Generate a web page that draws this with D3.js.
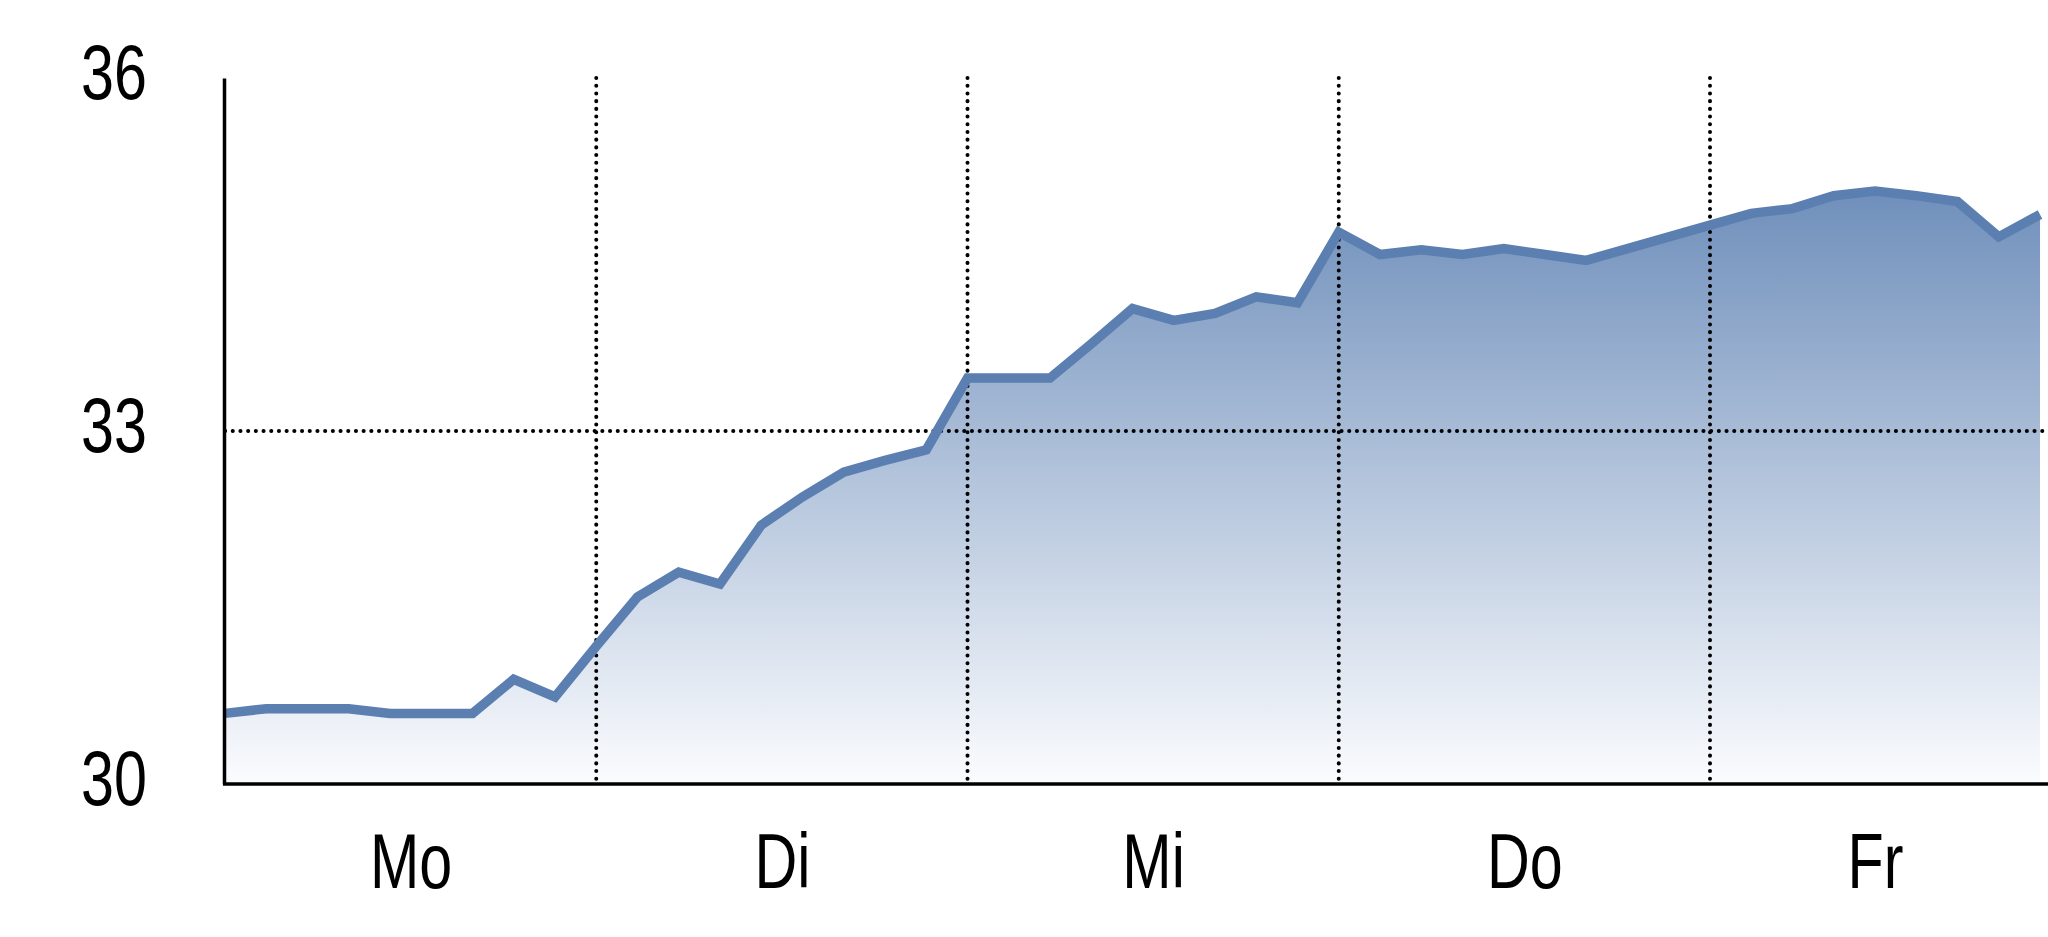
<!DOCTYPE html>
<html>
<head>
<meta charset="utf-8">
<script src="https://cdn.jsdelivr.net/npm/d3@7"></script>
<style>
  body { margin: 0; background: #fff; }
  svg { display: block; }
  .axis text { font-family: "Liberation Sans", Arial, sans-serif; font-size: 78px; fill: #000; }
  .axis .domain { stroke: #000; stroke-width: 3.5; }
  .grid line { stroke: #000; stroke-width: 4; stroke-linecap: round; stroke-dasharray: 0.1 7.6; }
</style>
</head>
<body>
<div class="diagram"></div>
<script>
var width = 2048, height = 937, margin = {top: 78, right: 8, bottom: 153, left: 225};
var squeeze = 0.76; // labels in the original are a condensed face

// one value per time step, 9 steps per day
var values = [
  30.60, 30.64, 30.64, 30.64, 30.60, 30.60, 30.60, 30.89, 30.74,
  31.17, 31.59, 31.80, 31.70, 32.20, 32.44, 32.65, 32.75, 32.84,
  33.45, 33.45, 33.45, 33.74, 34.04, 33.94, 34.00, 34.14, 34.09,
  34.69, 34.50, 34.54, 34.50, 34.55, 34.50, 34.45, 34.55, 34.65,
  34.75, 34.85, 34.89, 35.00, 35.04, 35.00, 34.95, 34.65, 34.84
];
var days = ["Mo", "Di", "Mi", "Do", "Fr"];
var dayBounds = [0, 9, 18, 27, 36, 44];
var yTicks = [30, 33, 36];

var svg = d3.select('.diagram')
  .append('svg')
  .attr('width', width)
  .attr('height', height);

var x = d3.scaleLinear().domain([0, values.length - 1]).range([margin.left, width - margin.right]),
    y = d3.scaleLinear().domain([30, 36]).range([height - margin.bottom, margin.top]);

var defs = svg.append('defs');
var grad = defs.append('linearGradient')
  .attr('id', 'fill')
  .attr('x1', 0).attr('y1', 0).attr('x2', 0).attr('y2', 1);
grad.append('stop').attr('offset', '0%').attr('stop-color', '#6f8fbb');
grad.append('stop').attr('offset', '100%').attr('stop-color', '#fbfcfe');

var area = d3.area()
  .x(function(d, i) { return x(i); })
  .y0(y(30))
  .y1(function(d) { return y(d); });

var line = d3.line()
  .x(function(d, i) { return x(i); })
  .y(function(d) { return y(d); });

svg.append('path')
  .datum(values)
  .attr('d', area)
  .attr('fill', 'url(#fill)');

// dotted grid
var grid = svg.append('g').attr('class', 'grid');
grid.selectAll('.v')
  .data(dayBounds.slice(1, -1))
  .enter().append('line')
  .attr('class', 'v')
  .attr('x1', function(d) { return x(d); })
  .attr('x2', function(d) { return x(d); })
  .attr('y1', y(36))
  .attr('y2', y(30));
grid.append('line')
  .attr('x1', x(0))
  .attr('x2', width)
  .attr('y1', y(33))
  .attr('y2', y(33));

svg.append('path')
  .datum(values)
  .attr('d', line)
  .attr('fill', 'none')
  .attr('stroke', '#5a7fb0')
  .attr('stroke-width', 9.5)
  .attr('stroke-linejoin', 'miter');

// y axis
var yAxis = svg.append('g')
  .attr('class', 'axis axis--y')
  .attr('transform', 'translate(' + (x(0) - 1) + ',0)')
  .call(d3.axisLeft(y).tickValues(yTicks).tickFormat(d3.format('d')).tickSize(0).tickPadding(77).tickSizeOuter(0));
yAxis.selectAll('text')
  .attr('dy', '0.26em')
  .attr('x', -77 / squeeze)
  .attr('transform', 'scale(' + squeeze + ',1)');

// x axis, labels centred in each day
var dayCenters = days.map(function(d, i) { return (dayBounds[i] + dayBounds[i + 1]) / 2; });
var xAxis = svg.append('g')
  .attr('class', 'axis axis--x')
  .attr('transform', 'translate(0,' + y(30) + ')')
  .call(d3.axisBottom(x).tickValues(dayCenters).tickSize(0).tickPadding(49).tickSizeOuter(0)
    .tickFormat(function(d, i) { return days[i]; }));
xAxis.selectAll('text').attr('transform', 'scale(' + squeeze + ',1)');
xAxis.select('.domain').attr('d', 'M' + (x(0) - 2) + ',0H' + width);
</script>
</body>
</html>
